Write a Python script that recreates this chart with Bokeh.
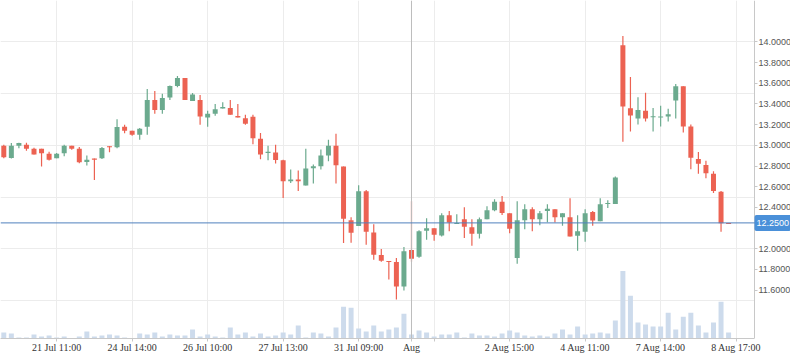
from bokeh.plotting import figure
from bokeh.models import (Range1d, FixedTicker, PrintfTickFormatter, Span, Label,
                          ColumnDataSource, LinearAxis, BoxAnnotation)
from bokeh.embed import file_html
from bokeh.resources import INLINE

# ---- data (hourly candles, index positions) ----
opens = [12.997, 12.878, 12.997, 13.007, 12.968, 12.968, 12.920, 12.875, 12.923, 12.997,
         12.968, 12.840, 12.872, 12.875, 12.991, 12.981, 13.180, 13.141, 13.103, 13.180,
         13.439, 13.343, 13.462, 13.574, 13.651, 13.430, 13.439, 13.269, 13.305, 13.356,
         13.362, 13.285, 13.263, 13.276, 13.064, 12.926, 12.930, 12.856, 12.654, 12.670,
         12.612, 12.779, 12.798, 12.901, 12.997, 12.795, 12.276, 12.221, 12.555, 12.157,
         11.939, 11.882, 11.872, 11.635, 11.988, 11.923, 12.173, 12.199, 12.129, 12.324,
         12.241, 12.286, 12.209, 12.145, 12.286, 12.372, 12.455, 12.343, 11.911, 12.276,
         12.382, 12.286, 12.366, 12.382, 12.305, 12.305, 12.125, 12.164, 12.356, 12.266,
         12.433, 12.433, 13.968, 13.359, 13.260, 13.334, 13.276, 13.273, 13.279, 13.433,
         13.571, 13.183, 12.869, 12.811, 12.725, 12.552, 12.250]
highs = [13.007, 13.023, 13.026, 13.026, 12.978, 12.968, 12.939, 12.926, 13.007, 12.997,
         12.984, 12.901, 12.872, 12.984, 12.994, 13.253, 13.199, 13.141, 13.167, 13.545,
         13.526, 13.500, 13.580, 13.670, 13.651, 13.507, 13.487, 13.334, 13.401, 13.417,
         13.439, 13.401, 13.295, 13.295, 13.119, 12.997, 13.007, 12.862, 12.766, 12.757,
         12.968, 12.814, 12.959, 13.055, 13.112, 12.795, 12.305, 12.613, 12.568, 12.238,
         11.997, 11.882, 11.911, 12.016, 12.459, 12.180, 12.295, 12.199, 12.343, 12.366,
         12.334, 12.401, 12.286, 12.302, 12.410, 12.478, 12.510, 12.343, 12.459, 12.430,
         12.401, 12.366, 12.430, 12.382, 12.343, 12.488, 12.324, 12.382, 12.366, 12.488,
         12.468, 12.699, 14.058, 13.661, 13.465, 13.510, 13.362, 13.382, 13.353, 13.594,
         13.571, 13.202, 12.936, 12.850, 12.750, 12.558, 12.250]
lows = [12.875, 12.872, 12.971, 12.949, 12.911, 12.795, 12.853, 12.875, 12.894, 12.958,
        12.827, 12.805, 12.664, 12.869, 12.933, 12.971, 13.116, 13.093, 13.055, 13.103,
        13.305, 13.305, 13.439, 13.561, 13.439, 13.430, 13.199, 13.180, 13.286, 13.356,
        13.295, 13.269, 13.199, 13.010, 12.866, 12.856, 12.824, 12.491, 12.635, 12.558,
        12.612, 12.632, 12.766, 12.846, 12.632, 12.055, 12.058, 12.221, 12.039, 11.894,
        11.875, 11.702, 11.510, 11.596, 11.875, 11.914, 12.087, 12.077, 12.119, 12.170,
        12.241, 12.103, 12.029, 12.100, 12.286, 12.362, 12.327, 12.151, 11.856, 12.189,
        12.170, 12.228, 12.257, 12.254, 12.222, 12.119, 11.981, 12.068, 12.222, 12.266,
        12.395, 12.433, 13.036, 13.135, 13.202, 13.231, 13.135, 13.183, 13.231, 13.260,
        13.125, 12.770, 12.725, 12.683, 12.539, 12.164, 12.244]
closes = [12.885, 12.997, 13.023, 12.968, 12.911, 12.923, 12.862, 12.920, 12.997, 12.968,
          12.837, 12.862, 12.866, 12.975, 12.986, 13.177, 13.141, 13.103, 13.161, 13.439,
          13.343, 13.459, 13.574, 13.651, 13.439, 13.491, 13.279, 13.305, 13.350, 13.372,
          13.295, 13.269, 13.209, 13.068, 12.911, 12.939, 12.859, 12.654, 12.670, 12.654,
          12.776, 12.798, 12.901, 12.997, 12.808, 12.289, 12.154, 12.555, 12.164, 11.943,
          11.885, 11.875, 11.635, 11.975, 11.904, 12.170, 12.199, 12.135, 12.324, 12.254,
          12.250, 12.212, 12.145, 12.286, 12.372, 12.455, 12.346, 12.193, 12.276, 12.382,
          12.286, 12.343, 12.388, 12.305, 12.343, 12.119, 12.170, 12.343, 12.273, 12.430,
          12.443, 12.689, 13.375, 13.289, 13.343, 13.260, 13.282, 13.279, 13.302, 13.571,
          13.183, 12.879, 12.821, 12.731, 12.558, 12.247, 12.245]
volume_k = [6, 5, 1, 1, 4, 2, 3, 1, 2, 0.3, 2, 7, 2, 3, 4, 3, 1, 0.3, 5, 4,
            6, 2, 4, 3, 3, 9, 2, 4, 2, 1, 11, 4, 6, 2, 5, 2, 3, 6, 4, 13,
            1, 6, 5, 2, 11, 32, 31, 10, 7, 13, 7, 9, 11, 25, 4, 8, 6, 2, 4, 4,
            6, 1, 5, 3, 3, 2, 5, 8, 6, 3, 2, 3, 2, 5, 9, 4, 12, 4, 5, 6,
            5, 18, 68, 43, 16, 14, 12, 12, 26, 9, 22, 26, 13, 6, 16, 37, 6]

tick_pos = [7, 17, 27, 37, 47, 54, 57, 67, 77, 87, 97]
tick_labels = ["21 Jul 11:00", "24 Jul 14:00", "26 Jul 10:00", "27 Jul 13:00", "31 Jul 09:00",
               "Aug", "", "2 Aug 15:00", "4 Aug 11:00", "7 Aug 14:00", "8 Aug 17:00"]
price_ticks = [11.6, 11.8, 12.0, 12.2, 12.4, 12.6, 12.8, 13.0, 13.2, 13.4, 13.6, 13.8, 14.0]
last_price = 12.25
marker_index = 54

GREEN = "#6baa8e"
RED = "#ec6252"

X_LEFT, X_AXIS, X_RIGHT = -0.437, 99.43, 104.2

idx = list(range(len(opens)))
colors = [GREEN if c >= o else RED for o, c in zip(opens, closes)]
btop = [max(o, c) for o, c in zip(opens, closes)]
bbot = [min(o, c) for o, c in zip(opens, closes)]
bbot = [b if t - b >= 0.01 else t - 0.01 for t, b in zip(btop, bbot)]

src = ColumnDataSource(dict(x=idx, o=opens, h=highs, l=lows, c=closes,
                            top=btop, bot=bbot, col=colors, vol=volume_k))

p = figure(width=790, height=355, x_range=Range1d(X_LEFT, X_RIGHT), y_range=Range1d(11.132, 14.401),
           y_axis_location=None, toolbar_location=None, output_backend="svg",
           min_border_left=0, min_border_top=0, min_border_right=0, min_border_bottom=14)
p.outline_line_color = None
p.background_fill_color = "white"
p.extra_y_ranges = {"vol": Range1d(0, 340)}

p.grid.grid_line_color = "#ececec"
p.grid.grid_line_width = 1

# white cover for the price-scale strip (grid lines stop at the axis)
p.add_layout(BoxAnnotation(left=X_AXIS, fill_color="white", fill_alpha=1.0,
                           line_color=None, level="underlay"))

p.vbar(x="x", top="vol", bottom=0, width=0.66, y_range_name="vol", source=src,
       fill_color="#cddbec", line_color=None)
p.segment(x0="x", y0="l", x1="x", y1="h", line_color="col", line_width=1.2, source=src)
p.vbar(x="x", top="top", bottom="bot", width=0.66, fill_color="col", line_color=None, source=src)

p.add_layout(Span(location=marker_index, dimension="height", line_color="#bdbdbd", line_width=1))
p.add_layout(Span(location=last_price, dimension="width", line_color="#4f81bd", line_width=1))

# price axis fixed at the right edge of the chart area
yax = LinearAxis(fixed_location=X_AXIS)
yax.ticker = FixedTicker(ticks=price_ticks)
yax.formatter = PrintfTickFormatter(format="%.4f")
yax.major_label_overrides = {12.2: ""}
p.add_layout(yax, "right")

p.xaxis.ticker = FixedTicker(ticks=tick_pos)
p.xaxis.major_label_overrides = dict(zip(tick_pos, tick_labels))
p.xaxis.bounds = (X_LEFT, X_AXIS)
for ax in (p.xaxis[0], yax):
    ax.axis_line_color = "#c8c8c8"
    ax.major_tick_line_color = "#c8c8c8"
    ax.major_tick_in = 0
    ax.minor_tick_line_color = None
yax.major_tick_out = 3
yax.major_label_standoff = 1
p.xaxis.major_tick_out = 3
p.xaxis.major_label_standoff = 0
yax.major_label_text_font = "Liberation Sans"
yax.major_label_text_font_size = "9px"
yax.major_label_text_color = "#555555"
p.xaxis.major_label_text_font = "Liberation Serif"
p.xaxis.major_label_text_font_size = "10px"
p.xaxis.major_label_text_color = "#333333"

p.add_layout(Label(x=X_AXIS, y=last_price, text="%.4f" % last_price, x_offset=0,
                   text_baseline="middle", text_align="left", text_font="Liberation Sans",
                   text_font_size="9px", text_color="white",
                   background_fill_color="#4a90d9", padding=(2, 5), border_radius=2))

open("out.html", "w").write(file_html(p, INLINE))
